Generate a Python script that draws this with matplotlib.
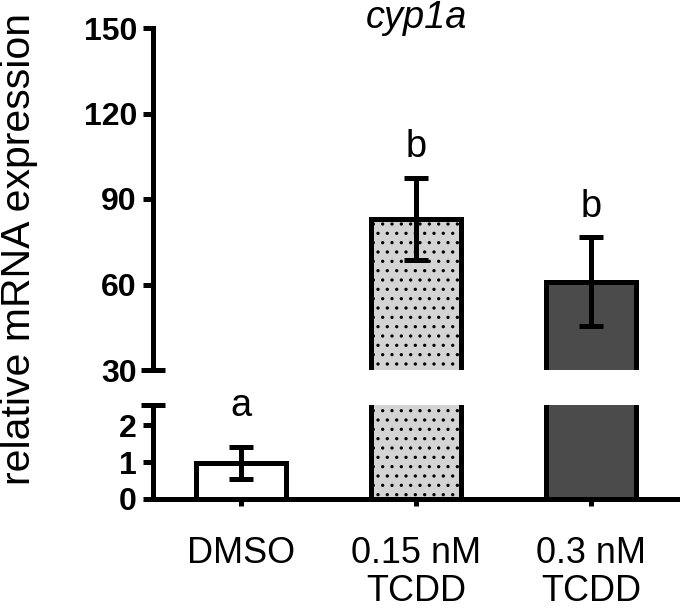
import matplotlib
matplotlib.use('Agg')
import matplotlib.pyplot as plt
import numpy as np

# ---- data ----
categories = ['DMSO', '0.15 nM\nTCDD', '0.3 nM\nTCDD']
means = [0.97, 83.0, 61.0]
errors = [0.43, 14.5, 15.5]
letters = ['a', 'b', 'b']
letter_y = [2.24, 104.7, 83.7]
top_ticks = [30, 60, 90, 120, 150]
bottom_ticks = [0, 1, 2]
face_colors = ['white', '#d4d4d4', '#4b4b4b']
hatches = ['', '..', '']
title = 'cyp1a'
ylabel = 'relative mRNA expression'

# ---- style ----
DPI = 112
W, H = 680, 608
PT = 72.0 / DPI  # points per pixel
LW = 5 * PT

plt.rcParams['font.family'] = ['Liberation Sans', 'DejaVu Sans']
plt.rcParams['hatch.linewidth'] = 0.9
plt.rcParams['hatch.color'] = 'black'

fig = plt.figure(figsize=(W / DPI, H / DPI), dpi=DPI)
left = 153 / W
width = 1.0 - left
ax_top = fig.add_axes([left, 1 - 370 / H, width, (370 - 28) / H])
ax_bot = fig.add_axes([left, 1 - 499 / H, width, (499 - 405) / H])

x = np.arange(len(categories))
for ax in (ax_top, ax_bot):
    ax.bar(x, means, width=0.515, color=face_colors, edgecolor='black',
           linewidth=LW, hatch=hatches, zorder=2)
    ax.errorbar(x, means, yerr=errors, fmt='none', ecolor='black',
                elinewidth=LW, capsize=12 * PT, capthick=LW, zorder=3)
    ax.set_xlim(-0.503, 2.51)
    for s in ('top', 'right'):
        ax.spines[s].set_visible(False)
    ax.spines['left'].set_linewidth(LW)
    ax.spines['bottom'].set_linewidth(LW)
    ax.tick_params(axis='y', length=10 * PT, width=LW, pad=6 * PT,
                   labelsize=32 * PT)

ax_top.set_ylim(30, 150)
ax_top.set_yticks(top_ticks)
ax_top.set_yticklabels([str(t) for t in top_ticks], fontweight='bold')
ax_top.spines['bottom'].set_visible(False)
ax_top.tick_params(axis='x', bottom=False, labelbottom=False)

ax_bot.set_ylim(0, 2.55)
ax_bot.set_yticks(bottom_ticks)
ax_bot.set_yticklabels([str(t) for t in bottom_ticks], fontweight='bold')
ax_bot.set_xticks(x)
ax_bot.set_xticklabels(categories, fontsize=36 * PT, linespacing=1.12)
ax_bot.tick_params(axis='x', length=7 * PT, width=LW, pad=30 * PT)

# axis break marks
for ax, yv in ((ax_top, 0.0), (ax_bot, 1.0)):
    ax.plot([0], [yv], transform=ax.transAxes, marker='_',
            markersize=24 * PT, markeredgewidth=LW, color='black',
            clip_on=False, zorder=5)

# significance letters
for xi, lt, yy in zip(x, letters, letter_y):
    target = ax_bot if yy < 30 else ax_top
    target.text(xi, yy, lt, ha='center', va='baseline', fontsize=38 * PT,
                clip_on=False)

fig.text(416 / W, 1 - 28 / H, title, ha='center', va='baseline',
         fontsize=38 * PT, style='italic')
fig.text(19 / W, 1 - 249 / H, ylabel, rotation=90, ha='center',
         va='center', fontsize=41 * PT)

fig.savefig('out.png', dpi=DPI)
